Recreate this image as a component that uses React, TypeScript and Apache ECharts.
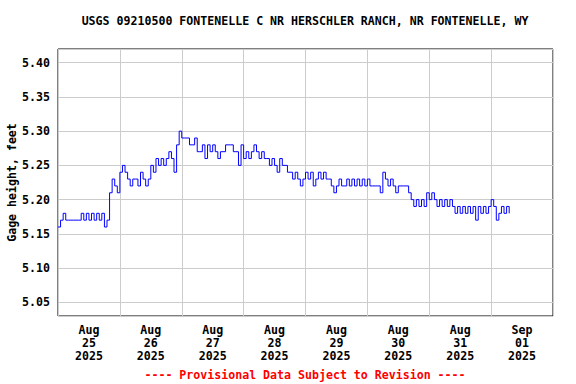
import { useEffect, useRef } from 'react';
import * as echarts from 'echarts';

const TITLE = 'USGS 09210500 FONTENELLE C NR HERSCHLER RANCH, NR FONTENELLE, WY';
const Y_NAME = 'Gage height, feet';
const FOOTER = '---- Provisional Data Subject to Revision ----';
const DAY_LABELS = [
  'Aug\n25\n2025', 'Aug\n26\n2025', 'Aug\n27\n2025', 'Aug\n28\n2025',
  'Aug\n29\n2025', 'Aug\n30\n2025', 'Aug\n31\n2025', 'Sep\n01\n2025',
];
// hourly gage height readings starting Aug 25 2025 00:00
const GAGE_HEIGHT = [
  5.16, 5.17, 5.18, 5.17, 5.17, 5.17, 5.17, 5.17, 5.17, 5.18,
  5.17, 5.18, 5.17, 5.18, 5.17, 5.18, 5.17, 5.18, 5.16, 5.17,
  5.21, 5.23, 5.22, 5.21, 5.24, 5.25, 5.24, 5.23, 5.22, 5.23,
  5.23, 5.22, 5.24, 5.23, 5.22, 5.23, 5.25, 5.24, 5.26, 5.25,
  5.26, 5.25, 5.26, 5.27, 5.26, 5.24, 5.28, 5.30, 5.29, 5.29,
  5.29, 5.28, 5.28, 5.29, 5.27, 5.27, 5.28, 5.26, 5.28, 5.27,
  5.28, 5.27, 5.26, 5.27, 5.27, 5.28, 5.28, 5.28, 5.27, 5.27,
  5.25, 5.28, 5.26, 5.27, 5.26, 5.27, 5.28, 5.27, 5.26, 5.27,
  5.26, 5.26, 5.25, 5.26, 5.25, 5.24, 5.26, 5.25, 5.25, 5.24,
  5.24, 5.23, 5.24, 5.23, 5.22, 5.23, 5.24, 5.23, 5.24, 5.22,
  5.23, 5.24, 5.23, 5.24, 5.23, 5.23, 5.22, 5.21, 5.22, 5.23,
  5.22, 5.22, 5.23, 5.22, 5.23, 5.22, 5.23, 5.22, 5.23, 5.22,
  5.23, 5.22, 5.22, 5.22, 5.22, 5.21, 5.24, 5.23, 5.22, 5.23,
  5.22, 5.21, 5.22, 5.22, 5.22, 5.22, 5.21, 5.20, 5.19, 5.20,
  5.19, 5.20, 5.19, 5.21, 5.20, 5.21, 5.20, 5.19, 5.20, 5.19,
  5.20, 5.19, 5.20, 5.19, 5.18, 5.19, 5.18, 5.19, 5.18, 5.19,
  5.18, 5.19, 5.17, 5.19, 5.18, 5.19, 5.18, 5.19, 5.20, 5.19,
  5.17, 5.18, 5.19, 5.18, 5.19, 5.18,
];
const HOURS_TOTAL = 192;
const Y_MIN = 5.03;
const Y_MAX = 5.42;

const FONT = '"DejaVu Sans Mono", "Liberation Mono", monospace';

export default function App() {
  const ref = useRef<HTMLDivElement>(null);
  useEffect(() => {
    if (!ref.current) return;
    const chart = echarts.init(ref.current, null, { renderer: 'svg' });
    const points = GAGE_HEIGHT.map((v, i) => [i, v]);
    chart.setOption({
      animation: false,
      backgroundColor: '#fff',
      title: [
        {
          text: TITLE,
          left: 300,
          textAlign: 'center',
          top: 10,
          textStyle: { fontFamily: FONT, fontSize: 11.6, fontWeight: 'bold', color: '#000' },
        },
        {
          text: FOOTER,
          left: 300,
          textAlign: 'center',
          top: 364,
          textStyle: { fontFamily: FONT, fontSize: 11.6, fontWeight: 'bold', color: '#ff0000' },
        },
      ],
      grid: {
        left: 58, right: 23, top: 49, bottom: 68,
        outerBoundsMode: 'none', containLabel: false,
        show: true, borderColor: '#000', borderWidth: 1, backgroundColor: 'transparent',
      },
      xAxis: [
        {
          type: 'value', min: 0, max: HOURS_TOTAL, interval: 24,
          axisLine: { show: false }, axisTick: { show: false }, axisLabel: { show: false },
          splitLine: { show: true, lineStyle: { color: '#cccccc', width: 1 } },
        },
        {
          type: 'value', min: 0, max: HOURS_TOTAL, interval: 12, position: 'bottom',
          axisLine: { show: false }, axisTick: { show: false }, splitLine: { show: false },
          axisLabel: {
            margin: 8,
            fontFamily: FONT, fontSize: 11.6, fontWeight: 'bold', color: '#000', lineHeight: 12.8,
            formatter: (v: number) => {
              const k = Math.round(v / 12);
              return k % 2 === 1 ? DAY_LABELS[(k - 1) / 2] ?? '' : '';
            },
          },
        },
      ],
      yAxis: {
        type: 'value', min: Y_MIN, max: Y_MAX, splitNumber: 8,
        name: Y_NAME, nameLocation: 'middle', nameRotate: 90, nameGap: 40,
        nameMoveOverlap: false,
        nameTextStyle: { fontFamily: FONT, fontSize: 11.6, fontWeight: 'bold', color: '#000' },
        axisLine: { show: false }, axisTick: { show: false },
        showMinLabel: false, showMaxLabel: false,
        axisLabel: {
          margin: 8,
          fontFamily: FONT, fontSize: 11.6, fontWeight: 'bold', color: '#000',
          formatter: (v: number) => {
            const r = Math.round(v * 100);
            return r % 5 === 0 ? (r / 100).toFixed(2) : '';
          },
        },
        splitLine: { show: true, lineStyle: { color: '#cccccc', width: 1 } },
      },
      series: [
        {
          type: 'line', xAxisIndex: 0, data: points, step: 'end', showSymbol: false,
          lineStyle: { color: '#0000ff', width: 1 }, silent: true,
        },
      ],
    });
    return () => chart.dispose();
  }, []);
  return <div ref={ref} style={{ width: 576, height: 384, position: 'absolute', left: 0, top: 0 }} />;
}
